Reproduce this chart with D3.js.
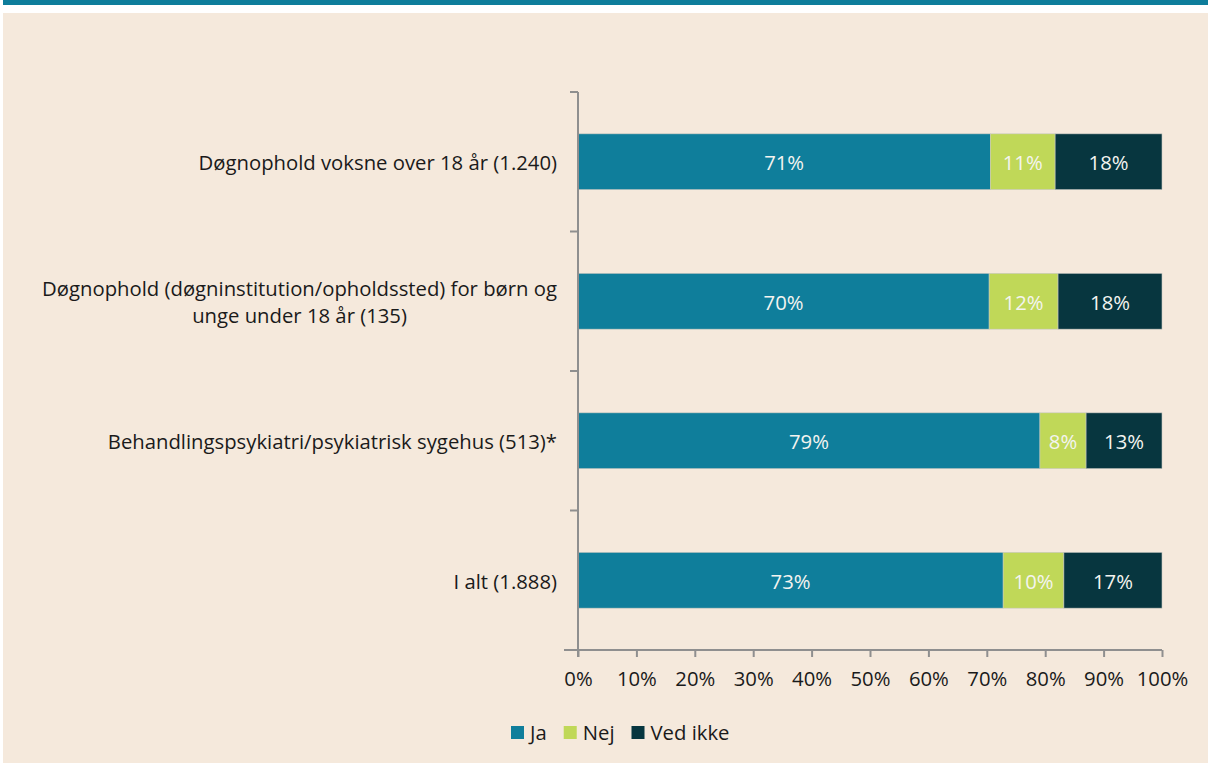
<!DOCTYPE html>
<html>
<head>
<meta charset="utf-8">
<script src="https://cdn.jsdelivr.net/npm/d3@7"></script>
<style>
  html, body { margin: 0; padding: 0; background: #fff; }
  svg { display: block; }
  text { font-family: "Open Sans", "Noto Sans", sans-serif; }
</style>
</head>
<body>
<div id="chart"></div>
<script>
// categories, top to bottom (each entry is the lines of the label)
const categories = [
  ["Døgnophold voksne over 18 år (1.240)"],
  ["Døgnophold (døgninstitution/opholdssted) for børn og", "unge under 18 år (135)"],
  ["Behandlingspsykiatri/psykiatrisk sygehus (513)*"],
  ["I alt (1.888)"]
];
const series = ["Ja", "Nej", "Ved ikke"];
const ja = [70.6, 70.4, 79.1, 72.8];
const nej = [11.1, 11.8, 7.9, 10.4];
const vedIkke = [18.3, 17.8, 13.0, 16.8];
const xTicks = [0, 10, 20, 30, 40, 50, 60, 70, 80, 90, 100];

const colors = ["#0f7e9b", "#c0d858", "#07363f"];
const W = 1208, H = 763;
const fs = "20.3px";

const svg = d3.select("#chart").append("svg").attr("width", W).attr("height", H);

// frame: teal band on top, beige panel
svg.append("rect").attr("x", 3).attr("y", 0).attr("width", W - 3).attr("height", 5).attr("fill", "#0e7d9b");
svg.append("rect").attr("x", 3).attr("y", 13).attr("width", W - 3).attr("height", H - 13).attr("fill", "#f5e9dc");

const plotL = 578, plotR = 1162, plotT = 92, plotB = 650;
const x = d3.scaleLinear().domain([0, 100]).range([plotL, plotR]);
const y = d3.scaleBand().domain(d3.range(categories.length)).range([plotT, plotB]).paddingInner(0.6).paddingOuter(0.3);

const rows = categories.map((c, i) => ({ i, vals: [ja[i], nej[i], vedIkke[i]] }));

// bars
rows.forEach(r => {
  let acc = 0;
  r.vals.forEach((v, k) => {
    const x0 = acc;
    acc += v;
    svg.append("rect")
      .attr("x", x(x0)).attr("y", y(r.i))
      .attr("width", x(acc) - x(x0)).attr("height", y.bandwidth())
      .attr("fill", colors[k])
      .attr("stroke", "#c9c9c2").attr("stroke-width", 0.6);
    svg.append("text")
      .attr("x", (x(x0) + x(acc)) / 2).attr("y", y(r.i) + y.bandwidth() / 2 + 1)
      .attr("dy", "0.36em").attr("text-anchor", "middle")
      .attr("fill", "#f4f4f0").style("font-size", fs)
      .text(Math.round(v) + "%");
  });
});

// y axis with ticks at category boundaries
const axisColor = "#8f8f8f";
svg.append("line").attr("x1", plotL).attr("x2", plotL).attr("y1", plotT).attr("y2", plotB + 7)
  .attr("stroke", axisColor).attr("stroke-width", 2);
const step = (plotB - plotT) / categories.length;
d3.range(categories.length + 1).forEach(j => {
  svg.append("line").attr("x1", plotL - 8).attr("x2", plotL).attr("y1", plotT + j * step).attr("y2", plotT + j * step)
    .attr("stroke", axisColor).attr("stroke-width", 2);
});

// x axis
const xAxis = svg.append("g").attr("transform", `translate(0,${plotB})`)
  .call(d3.axisBottom(x).tickValues(xTicks).tickSize(7).tickSizeOuter(0).tickFormat(d => d + "%"));
xAxis.select(".domain").attr("stroke", axisColor).attr("stroke-width", 2).attr("d", `M${plotL - 14},0H${plotR}`);
xAxis.selectAll(".tick line").attr("stroke", axisColor).attr("stroke-width", 2);
xAxis.selectAll(".tick text").attr("fill", "#1a1a1a").style("font-size", fs)
  .style("font-family", "'Open Sans', 'Noto Sans', sans-serif").attr("y", 22);

// category labels
rows.forEach(r => {
  const lines = categories[r.i];
  const cy = y(r.i) + y.bandwidth() / 2 + 1;
  const lh = 27;
  const g = svg.append("text").attr("fill", "#1a1a1a").style("font-size", fs);
  lines.forEach((ln, k) => {
    g.append("tspan").attr("x", 0).attr("y", cy + (k - (lines.length - 1) / 2) * lh).attr("dy", "0.36em").text(ln);
  });
  // right align block, center lines within block
  const bw = g.node().getBBox().width;
  g.selectAll("tspan").attr("x", 557 - bw / 2).attr("text-anchor", "middle");
});

// legend
const legend = svg.append("g").attr("transform", "translate(511,733)");
let lx = 0;
series.forEach((s, k) => {
  legend.append("rect").attr("x", lx).attr("y", -7).attr("width", 13).attr("height", 13).attr("fill", colors[k]);
  const t = legend.append("text").attr("x", lx + 19).attr("y", 0).attr("dy", "0.36em")
    .attr("fill", "#1a1a1a").style("font-size", fs).text(s);
  lx += 19 + t.node().getComputedTextLength() + 17;
});
</script>
</body>
</html>
